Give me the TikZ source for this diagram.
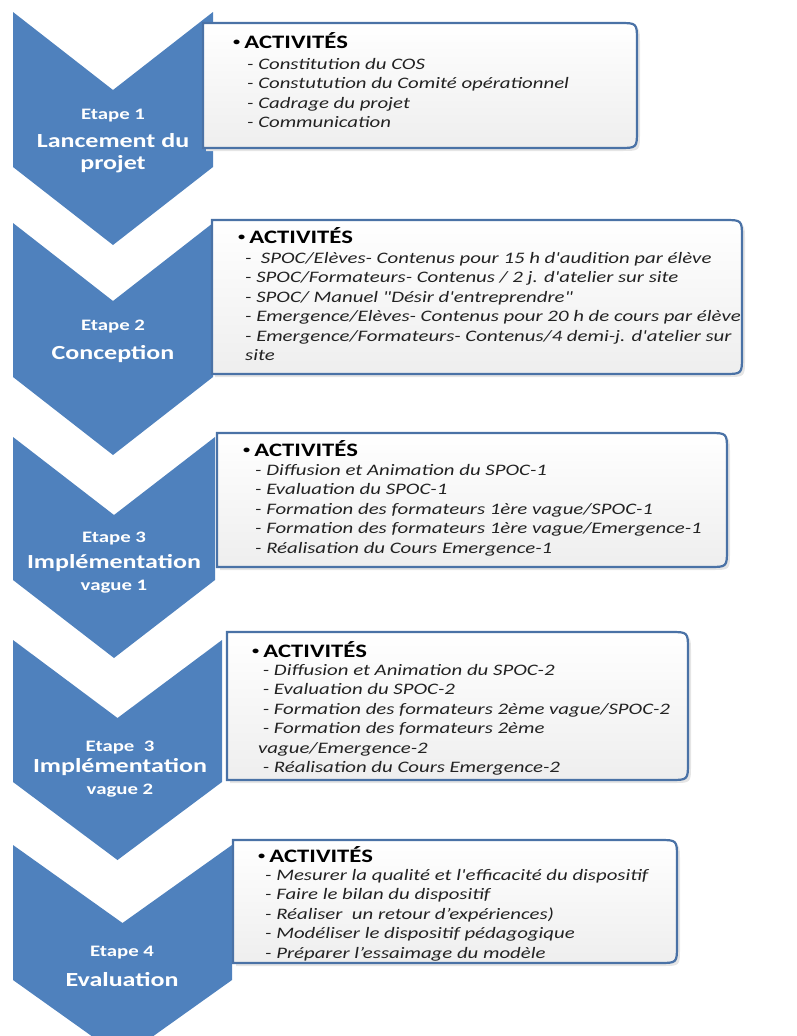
\documentclass[tikz,border=0pt]{standalone}
\usepackage{fontspec}
\setmainfont{Carlito}
\newfontfamily\lfont[FakeStretch=1.3,Ligatures=TeXOff]{Carlito}
\usepackage{tikz}
\usetikzlibrary{positioning}
\definecolor{BleuChevron}{HTML}{4F81BD}
\definecolor{BleuBord}{HTML}{4A72A6}
\definecolor{GrisFond}{HTML}{EEEEEE}
\definecolor{GrisTexte}{HTML}{222222}
% chevron : {x droite}{y haut}{hauteur du corps}
\newcommand{\chevron}[3]{%
  \fill[fleche] (13,#2) -- ({(13+#1)/2},#2+78) -- (#1,#2) -- (#1,#2+#3)
    -- ({(13+#1)/2},#2+#3+78) -- (13,#2+#3) -- cycle;}
% cadre des activites : {x1}{y1}{x2}{y2}, coins droits arrondis
\newcommand{\boite}[4]{%
  \fill[ombre] (#1+3,#2+3) -- (#3-15,#2+3) .. controls (#3+3,#2+3) .. (#3+3,#2+21)
    -- (#3+3,#4-15) .. controls (#3+3,#4+3) .. (#3-15,#4+3) -- (#1+3,#4+3) -- cycle;
  \draw[boite] (#1,#2) -- (#3-18,#2) .. controls (#3,#2) .. (#3,#2+18)
    -- (#3,#4-18) .. controls (#3,#4) .. (#3-18,#4) -- (#1,#4) -- cycle;}
\newcommand{\puce}{\raisebox{2.5pt}{\fontsize{11}{11}\selectfont•}\hspace{4pt}}
\tikzset{
  fleche/.style = {fill=BleuChevron},
  boite/.style  = {draw=BleuBord, line width=2.2pt, top color=white,
                   bottom color=GrisFond},
  ombre/.style  = {fill=black!10},
  etape/.style  = {text=white, inner sep=0pt,
                   font=\lfont\bfseries\fontsize{16}{18}\selectfont},
  phase/.style  = {text=white, inner sep=0pt, align=center,
                   font=\lfont\bfseries\fontsize{20}{22}\selectfont},
  titre/.style  = {anchor=base west, inner sep=0pt,
                   font=\lfont\bfseries\fontsize{19}{22}\selectfont},
  liste/.style  = {anchor=north west, inner sep=0pt, align=left, text=GrisTexte,
                   font=\lfont\itshape\fontsize{16}{19.5}\selectfont},
}
\begin{document}
\begin{tikzpicture}[x=1pt,y=-1pt]
  \useasboundingbox (0,0) rectangle (796,1036);
  \clip (0,0) rectangle (796,1036);
  % chevrons
  \chevron{213}{12}{155}
  \chevron{213}{223}{154}
  \chevron{215}{437}{143}
  \chevron{222}{640}{142}
  \chevron{232}{845}{135}
  % etapes
  \node[etape] (etape1) at (113,116) {Etape 1};
  \node[phase] (phase1) at (113,153) {Lancement du\\projet};
  \node[etape] (etape2) at (113,327) {Etape 2};
  \node[phase] (phase2) at (113,354) {Conception};
  \node[etape] (etape3) at (114,539) {Etape 3};
  \node[phase] (phase3) at (114,574) {Implémentation\\{\fontsize{16}{18}\selectfont vague 1}};
  \node[etape] (etape4) at (120,748) {Etape\ \ 3};
  \node[phase] (phase4) at (120,778) {Implémentation\\{\fontsize{16}{18}\selectfont vague 2}};
  \node[etape] (etape5) at (122,953) {Etape 4};
  \node[phase] (phase5) at (122,980) {Evaluation};
  % cadres
  \boite{203}{23}{637}{148}
  \boite{212}{220}{742}{374}
  \boite{217}{433}{727}{567}
  \boite{227}{632}{688}{780}
  \boite{233}{840}{677}{963}
  \node[titre] (titre1) at (233,48) {\puce ACTIVITÉS};
  \node[liste] (liste1) at (247,58) {- Constitution du COS\\- Constutution du Comité opérationnel\\
    - Cadrage du projet\\- Communication};
  \node[titre] (titre2) at (238,243) {\puce ACTIVITÉS};
  \node[liste] (liste2) at (245,252) {- \ SPOC/Elèves- Contenus pour 15 h d'audition par élève\\
    - SPOC/Formateurs- Contenus / 2 j. d'atelier sur site\\
    - SPOC/ Manuel "Désir d'entreprendre"\\
    - Emergence/Elèves- Contenus pour 20 h de cours par élève\\
    - Emergence/Formateurs- Contenus/4 demi-j. d'atelier sur\\site};
  \node[titre] (titre3) at (243,456) {\puce ACTIVITÉS};
  \node[liste] (liste3) at (255,464) {- Diffusion et Animation du SPOC-1\\- Evaluation du SPOC-1\\
    - Formation des formateurs 1ère vague/SPOC-1\\
    - Formation des formateurs 1ère vague/Emergence-1\\
    - Réalisation du Cours Emergence-1};
  \node[titre] (titre4) at (252,657) {\puce ACTIVITÉS};
  \node[liste] (liste4) at (258,664) {\ - Diffusion et Animation du SPOC-2\\\ - Evaluation du SPOC-2\\
    \ - Formation des formateurs 2ème vague/SPOC-2\\
    \ - Formation des formateurs 2ème\\vague/Emergence-2\\
    \ - Réalisation du Cours Emergence-2};
  \node[titre] (titre5) at (258,862) {\puce ACTIVITÉS};
  \node[liste] (liste5) at (265,869) {- Mesurer la qualité et l'efficacité du dispositif\\
    - Faire le bilan du dispositif\\- Réaliser \ un retour d’expériences)\\
    - Modéliser le dispositif pédagogique\\- Préparer l’essaimage du modèle};
\end{tikzpicture}
\end{document}
